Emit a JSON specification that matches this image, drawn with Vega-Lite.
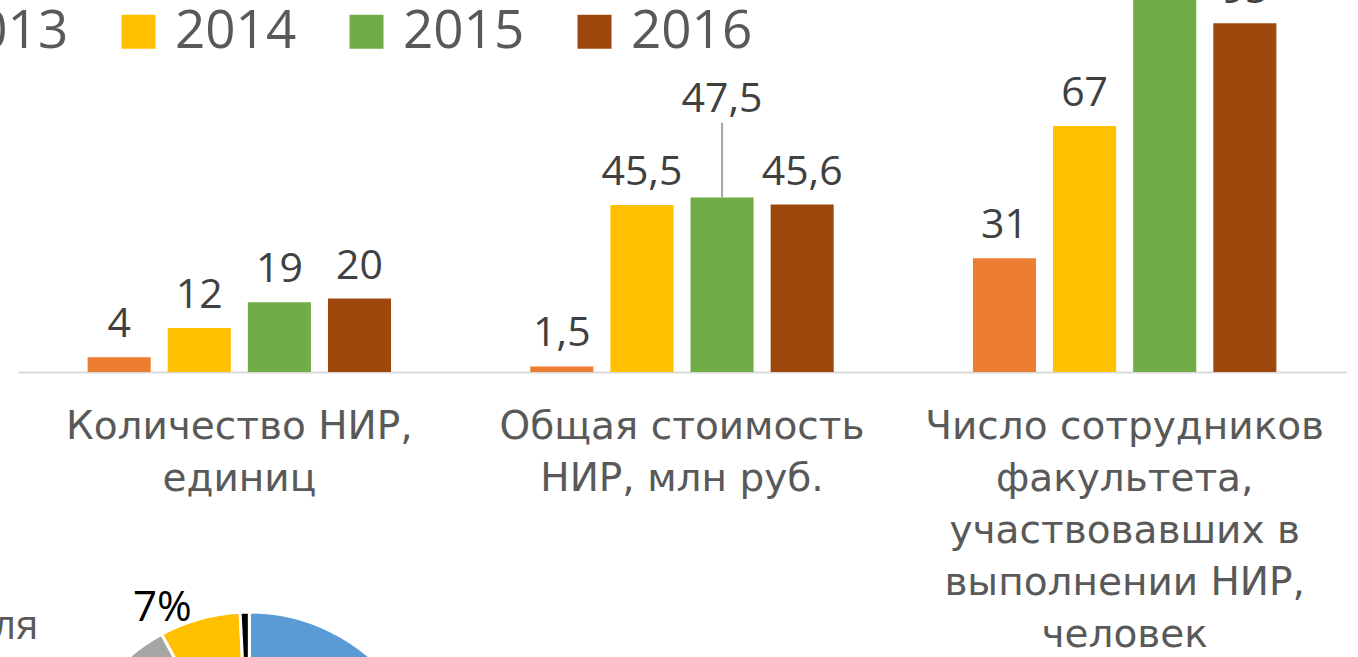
{
  "$schema": "https://vega.github.io/schema/vega-lite/v6.json",
  "width": 1328,
  "height": 372,
  "autosize": {"type": "none"},
  "padding": {"left": 18, "top": 0, "right": 12, "bottom": 285},
  "background": "white",
  "config": {
    "view": {"stroke": null},
    "locale": {"number": {"decimal": ",", "thousands": " ", "grouping": [3], "currency": ["", " ₽"]}}
  },
  "datasets": {
    "bars": [
      {"cat": "Количество НИР,|единиц", "year": "2013", "value": 4},
      {"cat": "Количество НИР,|единиц", "year": "2014", "value": 12},
      {"cat": "Количество НИР,|единиц", "year": "2015", "value": 19},
      {"cat": "Количество НИР,|единиц", "year": "2016", "value": 20},
      {"cat": "Общая стоимость|НИР, млн руб.", "year": "2013", "value": 1.5},
      {"cat": "Общая стоимость|НИР, млн руб.", "year": "2014", "value": 45.5},
      {"cat": "Общая стоимость|НИР, млн руб.", "year": "2015", "value": 47.5},
      {"cat": "Общая стоимость|НИР, млн руб.", "year": "2016", "value": 45.6},
      {"cat": "Число сотрудников|факультета,|участвовавших в|выполнении НИР,|человек", "year": "2013", "value": 31},
      {"cat": "Число сотрудников|факультета,|участвовавших в|выполнении НИР,|человек", "year": "2014", "value": 67},
      {"cat": "Число сотрудников|факультета,|участвовавших в|выполнении НИР,|человек", "year": "2015", "value": 110},
      {"cat": "Число сотрудников|факультета,|участвовавших в|выполнении НИР,|человек", "year": "2016", "value": 95}
    ],
    "pie": [
      {"part": "a", "share": 62},
      {"part": "b", "share": 17.1},
      {"part": "c", "share": 13},
      {"part": "d", "share": 7.1},
      {"part": "e", "share": 0.8}
    ]
  },
  "layer": [
    {
      "data": {"name": "bars"},
      "encoding": {
        "x": {
          "field": "cat",
          "type": "nominal",
          "sort": null,
          "scale": {"paddingInner": 0, "paddingOuter": 0},
          "axis": {
            "title": null,
            "ticks": false,
            "labelAngle": 0,
            "labelExpr": "split(datum.label, '|')",
            "labelFont": "DejaVu Sans",
            "labelFontSize": 39,
            "labelColor": "#595959",
            "labelLineHeight": 52,
            "labelBaseline": "top",
            "labelPadding": 35,
            "labelLimit": 0,
            "labelOverlap": false,
            "labelBound": false,
            "domainColor": "#d9d9d9",
            "domainWidth": 2
          }
        },
        "xOffset": {
          "field": "year",
          "type": "nominal",
          "scale": {"paddingInner": 0.2125, "paddingOuter": 0.869}
        },
        "y": {
          "field": "value",
          "type": "quantitative",
          "scale": {"domain": [0, 101.33], "nice": false, "zero": true},
          "axis": null
        }
      },
      "layer": [
        {
          "mark": {"type": "bar"},
          "encoding": {
            "color": {
              "field": "year",
              "type": "nominal",
              "scale": {"domain": ["2013", "2014", "2015", "2016"], "range": ["#ED7D31", "#FFC000", "#70AD47", "#9E480E"]},
              "legend": {
                "orient": "none",
                "legendX": -134,
                "legendY": 5,
                "direction": "horizontal",
                "title": null,
                "symbolType": "square",
                "symbolSize": 1156,
                "symbolStrokeWidth": 0,
                "labelFont": "Open Sans",
                "labelFontSize": 53,
                "labelColor": "#595959",
                "labelOffset": 10,
                "columnPadding": 43,
                "padding": 0
              }
            }
          }
        },
        {
          "transform": [{"filter": "!(datum.year == '2015' && indexof(datum.cat, 'Общая') == 0)"}],
          "mark": {"type": "text", "dy": -20, "baseline": "alphabetic", "font": "Open Sans", "fontSize": 41, "color": "#404040"},
          "encoding": {"text": {"field": "value", "type": "quantitative", "format": "~g"}}
        },
        {
          "transform": [{"filter": "datum.year == '2015' && indexof(datum.cat, 'Общая') == 0"}],
          "mark": {"type": "text", "dy": -86, "baseline": "alphabetic", "font": "Open Sans", "fontSize": 41, "color": "#404040"},
          "encoding": {"text": {"field": "value", "type": "quantitative", "format": "~g"}}
        },
        {
          "transform": [{"filter": "datum.year == '2015' && indexof(datum.cat, 'Общая') == 0"}],
          "mark": {"type": "rule", "color": "#a6a6a6", "strokeWidth": 2, "y2Offset": -75},
          "encoding": {"y2": {"field": "value"}}
        }
      ]
    },
    {
      "data": {"name": "pie"},
      "encoding": {
        "x": {"datum": "Количество НИР,|единиц", "type": "nominal"},
        "y": {"datum": -115.5, "type": "quantitative", "axis": null}
      },
      "layer": [
        {
          "mark": {"type": "arc", "radius": 184, "stroke": "white", "strokeWidth": 3, "xOffset": 10},
          "encoding": {
            "theta": {"field": "share", "type": "quantitative", "stack": true},
            "order": {"field": "part", "type": "nominal", "sort": "ascending"},
            "color": {
              "field": "part",
              "type": "nominal",
              "scale": {"domain": ["a", "b", "c", "d", "e"], "range": ["#5B9BD5", "#ED7D31", "#A5A5A5", "#FFC000", "#000000"]},
              "legend": null
            }
          }
        },
        {
          "transform": [{"filter": "datum.part == 'd'"}],
          "mark": {"type": "text", "text": "7%", "dx": -77, "dy": -188, "baseline": "middle", "font": "Open Sans", "fontSize": 42, "color": "#000000"},
          "encoding": {}
        },
        {
          "transform": [{"filter": "datum.part == 'd'"}],
          "mark": {"type": "text", "text": "ля", "dx": -201, "dy": -157, "align": "right", "baseline": "alphabetic", "font": "Open Sans", "fontSize": 40, "color": "#595959"},
          "encoding": {}
        }
      ]
    }
  ],
  "resolve": {"scale": {"color": "independent", "theta": "independent"}}
}
